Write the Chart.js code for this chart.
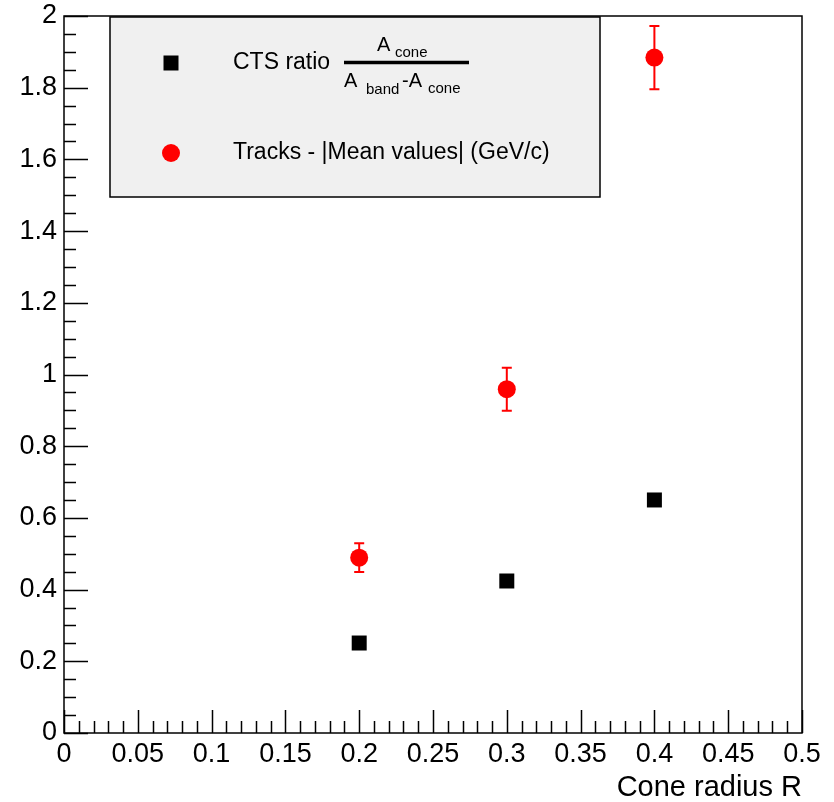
<!DOCTYPE html>
<html>
<head>
<meta charset="utf-8">
<script src="https://cdn.jsdelivr.net/npm/chart.js@4.4.1/dist/chart.umd.min.js"></script>
<style>
  html, body { margin: 0; padding: 0; background: #fff; }
  canvas { display: block; }
</style>
</head>
<body>
<canvas id="coneChart" width="834" height="802"></canvas>
<script>
// data
const coneRadius = [0.2, 0.3, 0.4];
const ctsRatio = [0.251, 0.424, 0.65];
const trackMeans = [0.489, 0.959, 1.884];
const trackErrors = [0.04, 0.06, 0.088];

// axis ticks
const xMajorStep = 0.05;
const xMinorStep = 0.01;
const yMajorStep = 0.2;
const yMinorStep = 0.05;

const FONT = '"Liberation Sans", Arial, sans-serif';

// error bars for the red series
const errorBars = {
  id: "errorBars",
  beforeDatasetsDraw(chart) {
    const ctx = chart.ctx;
    const xs = chart.scales.x;
    const ys = chart.scales.y;
    ctx.save();
    ctx.strokeStyle = "#ff0000";
    ctx.lineWidth = 2;
    coneRadius.forEach((r, i) => {
      const px = xs.getPixelForValue(r);
      const top = ys.getPixelForValue(trackMeans[i] + trackErrors[i]);
      const bot = ys.getPixelForValue(trackMeans[i] - trackErrors[i]);
      ctx.beginPath();
      ctx.moveTo(px, top);
      ctx.lineTo(px, bot);
      ctx.moveTo(px - 5, top);
      ctx.lineTo(px + 5, top);
      ctx.moveTo(px - 5, bot);
      ctx.lineTo(px + 5, bot);
      ctx.stroke();
    });
    ctx.restore();
  },
};

// ROOT style frame, inward ticks and the legend box
const rootFrame = {
  id: "rootFrame",
  afterDraw(chart) {
    const ctx = chart.ctx;
    const a = chart.chartArea;
    const xs = chart.scales.x;
    const ys = chart.scales.y;
    ctx.save();
    ctx.strokeStyle = "#000";
    ctx.lineWidth = 1.5;

    // x ticks
    ctx.beginPath();
    for (let i = 0; i <= 50; i++) {
      const v = i * xMinorStep;
      const px = Math.round(xs.getPixelForValue(v)) + 0.5;
      const len = i % 5 === 0 ? 23 : 12;
      ctx.moveTo(px, a.bottom);
      ctx.lineTo(px, a.bottom - len);
    }
    // y ticks
    for (let i = 0; i <= 40; i++) {
      const v = i * yMinorStep;
      const py = Math.round(ys.getPixelForValue(v)) + 0.5;
      const len = i % 4 === 0 ? 24 : 12;
      ctx.moveTo(a.left, py);
      ctx.lineTo(a.left + len, py);
    }
    ctx.stroke();

    // legend box
    const lx = 110, ly = 17, lw = 490, lh = 180;
    ctx.fillStyle = "#f0f0f0";
    ctx.fillRect(lx, ly, lw, lh);
    ctx.strokeRect(lx, ly, lw, lh);

    ctx.fillStyle = "#000";
    ctx.fillRect(171 - 7.5, 63 - 7.5, 15, 15);
    ctx.fillStyle = "#ff0000";
    ctx.beginPath();
    ctx.arc(171, 153, 9, 0, Math.PI * 2);
    ctx.fill();

    ctx.fillStyle = "#000";
    ctx.textBaseline = "middle";
    ctx.textAlign = "left";
    ctx.font = "23px " + FONT;
    ctx.fillText("CTS ratio", 233, 63);
    ctx.fillText("Tracks - |Mean values| (GeV/c)", 233, 153);

    // fraction A_cone / (A_band - A_cone)
    ctx.lineWidth = 3.5;
    ctx.beginPath();
    ctx.moveTo(344, 62.5);
    ctx.lineTo(469, 62.5);
    ctx.stroke();
    ctx.textBaseline = "alphabetic";
    ctx.font = "20px " + FONT;
    ctx.fillText("A", 377, 51);
    ctx.fillText("A", 344, 87);
    ctx.fillText("-A", 402, 87);
    ctx.font = "15px " + FONT;
    ctx.fillText("cone", 395, 57);
    ctx.fillText("band", 366, 94);
    ctx.fillText("cone", 428, 93);

    // frame
    ctx.lineWidth = 1.5;
    ctx.strokeRect(a.left, a.top, a.right - a.left, a.bottom - a.top);
    ctx.restore();
  },
};

const coneChart = new Chart(document.getElementById("coneChart"), {
  type: "scatter",
  data: {
    datasets: [
      {
        label: "CTS ratio",
        data: coneRadius.map((r, i) => ({ x: r, y: ctsRatio[i] })),
        pointStyle: "rect",
        pointRadius: 10.6,
        pointHoverRadius: 10.6,
        backgroundColor: "#000",
        borderColor: "#000",
        borderWidth: 0,
      },
      {
        label: "Tracks - |Mean values| (GeV/c)",
        data: coneRadius.map((r, i) => ({ x: r, y: trackMeans[i] })),
        pointStyle: "circle",
        pointRadius: 9,
        pointHoverRadius: 9,
        backgroundColor: "#ff0000",
        borderColor: "#ff0000",
        borderWidth: 0,
      },
    ],
  },
  options: {
    responsive: false,
    animation: false,
    layout: { padding: { top: 16, right: 32, left: 0, bottom: 0 } },
    plugins: {
      legend: { display: false },
      tooltip: { enabled: false },
    },
    scales: {
      x: {
        type: "linear",
        min: 0,
        max: 0.5,
        afterFit(scale) {
          scale.height = 69;
          scale.paddingLeft = 0;
          scale.paddingRight = 0;
        },
        grid: { display: false, drawTicks: false },
        border: { display: false },
        ticks: {
          stepSize: xMajorStep,
          autoSkip: false,
          maxRotation: 0,
          padding: 5,
          color: "#000",
          font: { family: FONT, size: 27 },
          callback: (v) => String(parseFloat(v.toFixed(2))),
        },
        title: {
          display: true,
          text: "Cone radius R",
          align: "end",
          color: "#000",
          font: { family: FONT, size: 29, lineHeight: 1 },
          padding: { top: 0, bottom: 0 },
        },
      },
      y: {
        type: "linear",
        min: 0,
        max: 2,
        afterFit(scale) {
          scale.width = 64;
          scale.paddingTop = 0;
          scale.paddingBottom = 0;
        },
        grid: { display: false, drawTicks: false },
        border: { display: false },
        ticks: {
          stepSize: yMajorStep,
          autoSkip: false,
          padding: 7,
          color: "#000",
          font: { family: FONT, size: 27 },
          callback: (v) => String(parseFloat(v.toFixed(1))),
        },
      },
    },
  },
  plugins: [errorBars, rootFrame],
});
</script>
</body>
</html>
